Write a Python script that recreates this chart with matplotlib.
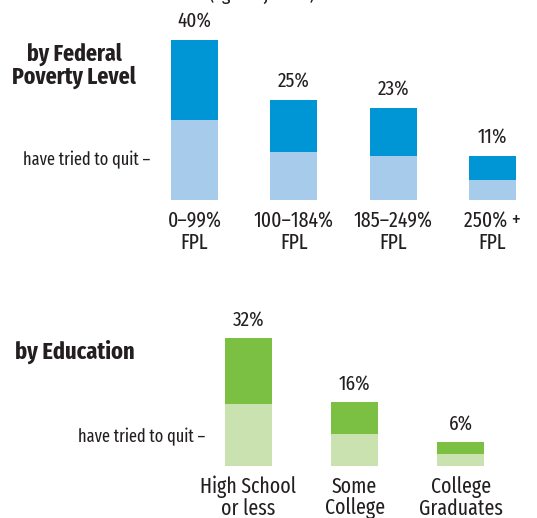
import matplotlib
matplotlib.use("Agg")
import matplotlib.pyplot as plt

plt.rcParams['font.family'] = ['Fira Sans Extra Condensed', 'PT Sans Narrow', 'DejaVu Sans']

# Data: share of smokers (%) and share who have tried to quit
fpl_labels = ["0–99%\nFPL", "100–184%\nFPL", "185–249%\nFPL", "250% +\nFPL"]
fpl_total = [40, 25, 23, 11]
fpl_tried = [20, 12, 11, 5]

edu_labels = ["High School\nor less", "Some\nCollege", "College\nGraduates"]
edu_total = [32, 16, 6]
edu_tried = [15.5, 8, 3]

W, H = 537, 518
fig = plt.figure(figsize=(W / 100, H / 100), dpi=100)
ink = '#231f20'


def fx(px):
    return px / W


def fy(py):
    return 1 - py / H


def panel(bottom_px, first_px, step_px, labels, total, tried, dark, light, lab_gap):
    # axes covering full width, 4 px per percentage point
    ax = fig.add_axes([0, fy(bottom_px), 1, 200 / H])
    ax.set_ylim(0, 50)
    ax.set_xlim(-first_px / step_px, (W - first_px) / step_px)
    ax.axis('off')
    xs = list(range(len(labels)))
    bw = 47 / step_px
    upper = [t - q for t, q in zip(total, tried)]
    ax.bar(xs, tried, width=bw, color=light, linewidth=0)
    ax.bar(xs, upper, bottom=tried, width=bw, color=dark, linewidth=0)
    for x, t, lab in zip(xs, total, labels):
        ax.text(x, t + lab_gap, f"{t:g}%", ha='center', va='center',
                fontsize=15, color=ink, clip_on=False)
        ax.text(x, -7.9, lab, ha='center', va='center', fontsize=15.5,
                color=ink, linespacing=1.0, clip_on=False)
    return ax


panel(200, 194.5, 99.3, fpl_labels, fpl_total, fpl_tried,
      '#0096d6', '#a6cbeb', 4.7)
panel(466, 248.5, 106.25, edu_labels, edu_total, edu_tried,
      '#7bbf43', '#c9e2af', 4.4)

# Section titles and side notes
fig.text(fx(74), fy(66), "by Federal\nPoverty Level", ha='center', va='center',
         fontsize=17, fontweight='bold', color=ink, linespacing=1.0)
fig.text(fx(15), fy(352), "by Education", ha='left', va='center',
         fontsize=17.5, fontweight='bold', color=ink)
fig.text(fx(150), fy(160), "have tried to quit –", ha='right', va='center',
         fontsize=12.8, color=ink)
fig.text(fx(205), fy(437), "have tried to quit –", ha='right', va='center',
         fontsize=12.8, color=ink)

# cut-off subtitle line at the very top
fig.text(fx(262), fy(0), "(age-adjusted)", ha='center', va='baseline',
         fontsize=14, color=ink)

fig.savefig("out.png", dpi=100)
